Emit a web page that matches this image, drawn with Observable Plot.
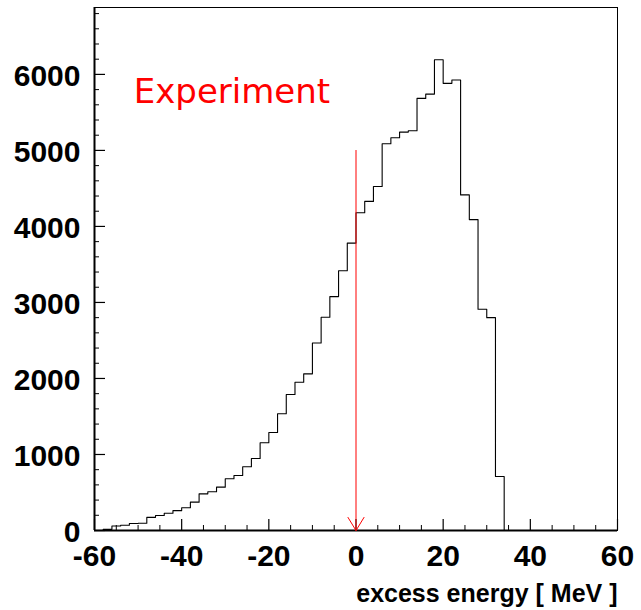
<!DOCTYPE html>
<html><head><meta charset="utf-8">
<script src="https://cdn.jsdelivr.net/npm/d3@7"></script>
<script src="https://cdn.jsdelivr.net/npm/@observablehq/plot@0.6"></script>
<style>html,body{margin:0;padding:0;background:#fff} svg{display:block}</style>
</head><body><div id="chart"></div>
<script>
// Histogram bins (2 MeV wide), low edges and contents
const binLow = [-60,-58,-56,-54,-52,-50,-48,-46,-44,-42,-40,-38,-36,-34,-32,-30,-28,-26,-24,-22,-20,-18,-16,-14,-12,-10,-8,-6,-4,-2,0,2,4,6,8,10,12,14,16,18,20,22,24,26,28,30,32,34,36,38,40,42,44,46,48,50,52,54,56,58];
const counts = [0,15,60,70,92,95,173,197,226,261,300,373,482,509,570,680,724,838,947,1154,1289,1535,1789,1950,2061,2467,2805,3077,3417,3781,4180,4329,4526,5088,5167,5241,5259,5684,5741,6193,5882,5926,4415,4090,2910,2800,711,0,0,0,0,0,0,0,0,0,0,0,0];
const xDomain = [-60, 60];
const yDomain = [0, 6880];
const xMajorTicks = [-60,-40,-20,0,20,40,60];
const xMinorTicks = [-55,-50,-45,-35,-30,-25,-15,-10,-5,5,10,15,25,30,35,45,50,55];
const yMajorTicks = [0,1000,2000,3000,4000,5000,6000];
const yMinorTicks = [200,400,600,800,1200,1400,1600,1800,2200,2400,2600,2800,3200,3400,3600,3800,4200,4400,4600,4800,5200,5400,5600,5800,6200,6400,6600,6800];
const xLabel = "excess energy [ MeV ]";
const annotationText = ["Experiment"];
const annotationAt = {x: -51, y: 5630};
const arrowMark = [{x: 0, top: 5000, bottom: 0}];

const W = 641, H = 610;
const mL = 94, mR = 24, mT = 7, mB = 80;
const innerW = W - mL - mR, innerH = H - mT - mB;

const hist = binLow.map((x, i) => ({x, y: counts[i]}));
hist.push({x: xDomain[1], y: 0});

const font = "'Liberation Sans', Arial, Helvetica, sans-serif";
const fmt = d => String(d);

const chart = Plot.plot({
  width: W, height: H,
  marginLeft: mL, marginRight: mR, marginTop: mT, marginBottom: mB,
  style: {fontFamily: font, background: "#fff", color: "#000"},
  x: {domain: xDomain, label: null},
  y: {domain: yDomain, label: null},
  marks: [
    Plot.frame({stroke: "#000", strokeWidth: 1}),
    // inward ticks
    Plot.tickX(xMajorTicks, {x: d => d, insetTop: innerH - 11, stroke: "#000", strokeWidth: 1.2}),
    Plot.tickX(xMinorTicks, {x: d => d, insetTop: innerH - 5, stroke: "#000", strokeWidth: 1}),
    Plot.tickY(yMajorTicks, {y: d => d, insetRight: innerW - 11, stroke: "#000", strokeWidth: 1.2}),
    Plot.tickY(yMinorTicks, {y: d => d, insetRight: innerW - 5, stroke: "#000", strokeWidth: 1}),
    Plot.axisX({ticks: xMajorTicks, tickSize: 0, tickPadding: 14, tickFormat: fmt, fontSize: 30, fontWeight: "bold", label: null}),
    Plot.axisY({ticks: yMajorTicks, tickSize: 0, tickPadding: 14, tickFormat: fmt, fontSize: 30, fontWeight: "bold", dy: 2, label: null}),
    // histogram outline
    Plot.line(hist, {x: "x", y: "y", curve: "step-after", stroke: "#000", strokeWidth: 1.1}),
    // axis lines
    Plot.ruleY([yDomain[0]], {stroke: "#000", strokeWidth: 2}),
    Plot.ruleX([xDomain[0]], {stroke: "#000", strokeWidth: 2}),
    // red arrow at 0
    Plot.arrow(arrowMark, {x1: "x", y1: "top", x2: "x", y2: "bottom", stroke: "red", strokeWidth: 1, headLength: 23, headAngle: 63}),
    Plot.text(annotationText, {x: annotationAt.x, y: annotationAt.y, text: d => d, textAnchor: "start", lineAnchor: "bottom", fill: "red", fontSize: 34, fontFamily: "'DejaVu Sans', sans-serif"}),
    Plot.text([xLabel], {frameAnchor: "bottom-right", text: d => d, textAnchor: "end", lineAnchor: "bottom", dy: 71, fontSize: 25, fontWeight: "bold", fill: "#000"})
  ]
});
document.getElementById("chart").appendChild(chart);
</script>
</body></html>
